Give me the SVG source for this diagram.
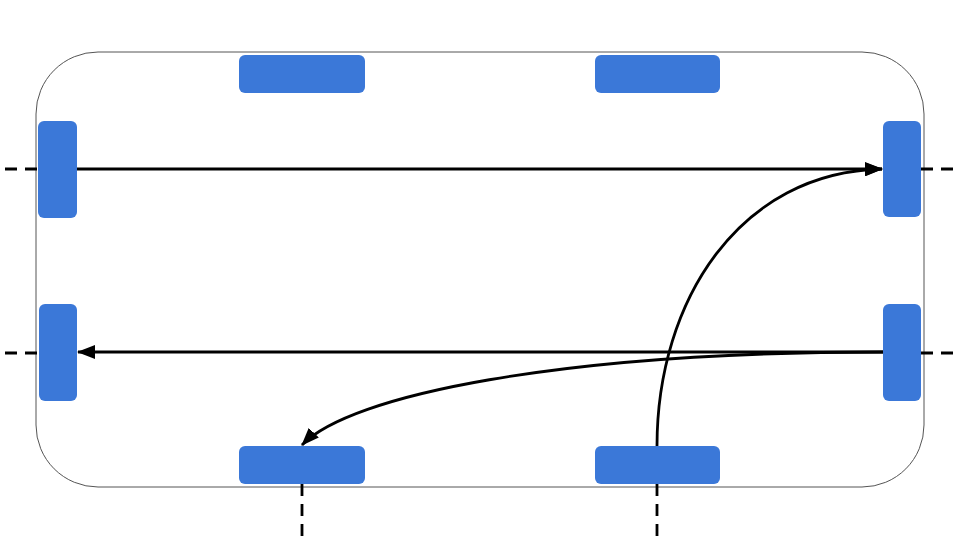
<svg xmlns="http://www.w3.org/2000/svg" width="960" height="540" viewBox="0 0 960 540">
  <defs>
    <style>
      .port { fill: #3b78d8; }
      .conn { fill: none; stroke: #000; stroke-width: 2.8; }
      .dash { fill: none; stroke: #000; stroke-width: 2.8; stroke-dasharray: 12 8; }
    </style>
    <marker id="arrow" viewBox="0 0 18 14" refX="17" refY="7" markerWidth="18" markerHeight="14" markerUnits="userSpaceOnUse" orient="auto">
      <path d="M0,0 L18,7 L0,14 Z" fill="#000"/>
    </marker>
  </defs>
  <rect width="960" height="540" fill="#fff"/>
  <g id="container">
    <rect x="36" y="52" width="888" height="435" rx="62" ry="62" fill="none" stroke="#555" stroke-width="1"/>
  </g>
  <g id="connectors">
    <line class="dash" x1="5" y1="169" x2="38" y2="169"/>
    <line class="dash" x1="921" y1="169" x2="960" y2="169"/>
    <line class="dash" x1="5" y1="353" x2="39" y2="353"/>
    <line class="dash" x1="921" y1="353" x2="960" y2="353"/>
    <line class="dash" x1="302" y1="484" x2="302" y2="540"/>
    <line class="dash" x1="657" y1="484" x2="657" y2="540"/>
    <line class="conn" x1="77" y1="169" x2="882" y2="169" marker-end="url(#arrow)"/>
    <line class="conn" x1="883" y1="352" x2="78" y2="352" marker-end="url(#arrow)"/>
    <path class="conn" d="M883,352 C560,352 350,395 302,445" marker-end="url(#arrow)"/>
    <path class="conn" d="M657,446 C657,300 740,172 882,169" marker-end="url(#arrow)"/>
  </g>
  <g id="port-top-1"><rect class="port" x="239" y="55" width="126" height="38" rx="6"/></g>
  <g id="port-top-2"><rect class="port" x="595" y="55" width="125" height="38" rx="6"/></g>
  <g id="port-bottom-1"><rect class="port" x="239" y="446" width="126" height="38" rx="6"/></g>
  <g id="port-bottom-2"><rect class="port" x="595" y="446" width="125" height="38" rx="6"/></g>
  <g id="port-left-1"><rect class="port" x="38" y="121" width="39" height="97" rx="6"/></g>
  <g id="port-left-2"><rect class="port" x="39" y="304" width="38" height="97" rx="6"/></g>
  <g id="port-right-1"><rect class="port" x="883" y="121" width="38" height="96" rx="6"/></g>
  <g id="port-right-2"><rect class="port" x="883" y="304" width="38" height="97" rx="6"/></g>
</svg>
